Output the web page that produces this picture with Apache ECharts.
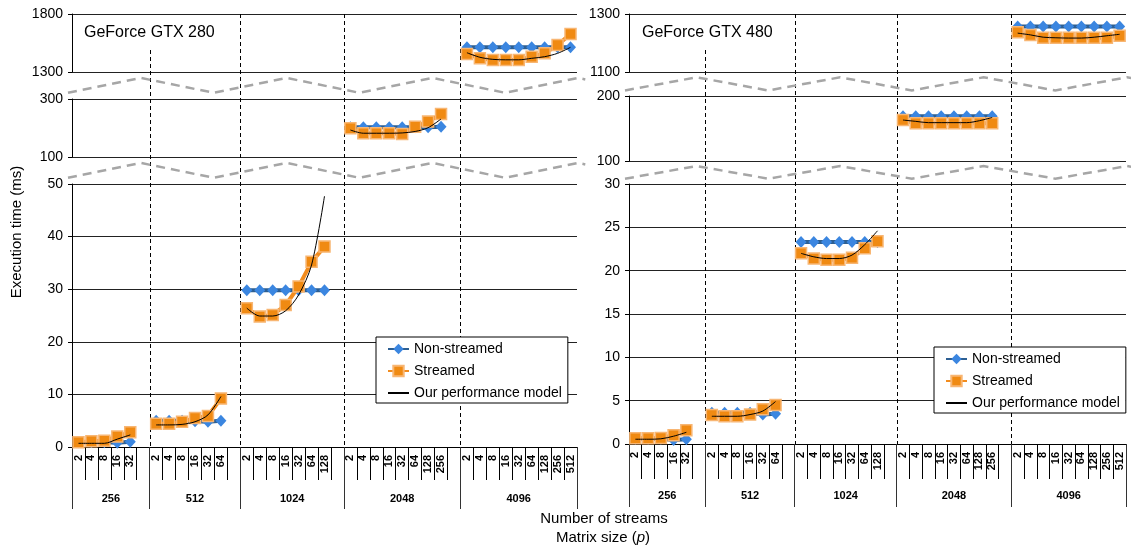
<!DOCTYPE html>
<html>
<head>
<meta charset="utf-8">
<title>Execution time: streamed vs non-streamed</title>
<script src="https://cdn.jsdelivr.net/npm/echarts@6/dist/echarts.min.js"></script>
<style>
  html, body { margin: 0; padding: 0; background: #fff; }
  #chart { width: 1131px; height: 548px; }
</style>
</head>
<body>
<div id="chart"></div>
<script>
// ---- data -------------------------------------------------------------
const matrixSizes = ['256', '512', '1024', '2048', '4096'];
const streamCounts = [
  [2, 4, 8, 16, 32],
  [2, 4, 8, 16, 32, 64],
  [2, 4, 8, 16, 32, 64, 128],
  [2, 4, 8, 16, 32, 64, 128, 256],
  [2, 4, 8, 16, 32, 64, 128, 256, 512]
];
const seriesNames = ['Non-streamed', 'Streamed', 'Our performance model'];

// GeForce GTX 280 execution times (ms), one row per matrix size
const gtx280NonStreamed = [
  [0.9, 0.9, 0.9, 0.8, 1.0],
  [5.0, 5.0, 5.0, 4.9, 4.8, 5.0],
  [29.8, 29.8, 29.8, 29.8, 29.8, 29.8, 29.8],
  [203, 203, 203, 203, 203, 203, 203, 204],
  [1513, 1513, 1513, 1513, 1513, 1513, 1513, 1513, 1513]
];
const gtx280Streamed = [
  [0.9, 1.1, 1.2, 2.0, 2.8],
  [4.4, 4.4, 4.8, 5.5, 5.9, 9.2],
  [26.4, 24.8, 25.1, 27.0, 30.5, 35.2, 38.1],
  [199, 182, 182, 182, 179, 204, 222, 248],
  [1455, 1418, 1403, 1403, 1403, 1432, 1461, 1533, 1628]
];
const gtx280Model = [
  [0.7, 0.7, 0.7, 1.5, 2.3],
  [4.2, 4.2, 4.3, 4.8, 6.1, 9.6],
  [26.4, 24.9, 24.9, 25.9, 28.9, 34.6, 47.7],
  [193, 182, 182, 182, 183, 188, 201, 231],
  [1466, 1427, 1409, 1405, 1405, 1418, 1432, 1461, 1513]
];

// GeForce GTX 480 execution times (ms)
const gtx480NonStreamed = [
  [0.6, 0.6, 0.6, 0.45, 0.55],
  [3.6, 3.6, 3.6, 3.6, 3.4, 3.5],
  [23.3, 23.3, 23.3, 23.3, 23.3, 23.3, 23.3],
  [169, 169, 169, 169, 169, 169, 169, 169],
  [1257, 1257, 1257, 1257, 1257, 1257, 1257, 1257, 1257]
];
const gtx480Streamed = [
  [0.65, 0.65, 0.7, 1.0, 1.6],
  [3.35, 3.2, 3.2, 3.4, 4.0, 4.5],
  [22.0, 21.4, 21.25, 21.25, 21.5, 22.6, 23.4],
  [163, 158, 158, 158, 158, 158, 158, 158],
  [1237, 1228, 1218, 1218, 1218, 1218, 1218, 1218, 1225]
];
const gtx480Model = [
  [0.55, 0.55, 0.6, 0.9, 1.35],
  [3.2, 3.2, 3.2, 3.4, 3.8, 4.9],
  [22.0, 21.6, 21.4, 21.4, 21.8, 23.0, 24.6],
  [163, 161, 159, 159, 159, 159, 162, 167],
  [1234, 1228, 1220, 1218, 1217, 1217, 1220, 1225, 1230]
];

// ---- layout -----------------------------------------------------------
const FONT = '"Liberation Sans", Arial, Helvetica, sans-serif';

// Every matrix size gets one slot per stream count, plus an empty spacer slot (except the last)
const slotLabels = [];
const groupStart = [];
matrixSizes.forEach((m, g) => {
  groupStart.push(slotLabels.length);
  streamCounts[g].forEach(s => slotLabels.push(String(s)));
  if (g < matrixSizes.length - 1) slotLabels.push('');
});
const slotCount = slotLabels.length;
const groupBounds = groupStart.concat([slotCount]);
const groupCenters = matrixSizes.map((m, g) => (groupBounds[g] + groupBounds[g + 1]) / 2);

// Each panel is a broken y axis made of three stacked grids (level 0 = bottom)
const panels = [
  {
    title: 'GeForce GTX 280', titleX: 84,
    nonStreamed: gtx280NonStreamed, streamed: gtx280Streamed, model: gtx280Model,
    left: 72, width: 505,
    levels: [
      { top: 184, height: 263, min: 0, max: 50, interval: 10 },
      { top: 99, height: 58, min: 100, max: 300, interval: 200 },
      { top: 14, height: 58, min: 1300, max: 1800, interval: 500 }
    ],
    groupLevel: [0, 0, 0, 1, 2],
    tickLen: 33, groupTickLen: 62, groupLabelMargin: 46,
    legendPos: { left: 376, top: 337 }
  },
  {
    title: 'GeForce GTX 480', titleX: 642,
    nonStreamed: gtx480NonStreamed, streamed: gtx480Streamed, model: gtx480Model,
    left: 629, width: 497,
    levels: [
      { top: 184, height: 260, min: 0, max: 30, interval: 5 },
      { top: 96, height: 65, min: 100, max: 200, interval: 100 },
      { top: 14, height: 58, min: 1100, max: 1300, interval: 200 }
    ],
    groupLevel: [0, 0, 0, 1, 2],
    tickLen: 35, groupTickLen: 63, groupLabelMargin: 46,
    legendPos: { left: 934, top: 347 }
  }
];

const grid = [], xAxis = [], yAxis = [], series = [], legend = [], title = [];
const baseGrid = [], groupAxis = [];

function slotData(rows, panel, level) {
  const d = new Array(slotCount).fill(null);
  rows.forEach((vals, g) => {
    if (panel.groupLevel[g] !== level) return;
    vals.forEach((v, k) => { d[groupStart[g] + k] = v; });
  });
  return d;
}

panels.forEach((p, pi) => {
  title.push({
    text: p.title, left: p.titleX, top: 25, padding: 0,
    textStyle: { fontSize: 16, fontWeight: 'normal', color: '#000', fontFamily: FONT }
  });

  p.levels.forEach((lv, li) => {
    const gi = grid.length;
    const xi = xAxis.length;
    const yi = yAxis.length;
    if (li === 0) baseGrid.push(gi);
    grid.push({ left: p.left, width: p.width, top: lv.top, height: lv.height });

    xAxis.push({
      type: 'category', gridIndex: gi, data: slotLabels, boundaryGap: true,
      show: li === 0, position: 'bottom',
      axisLine: { show: true, onZero: false, lineStyle: { color: '#000', width: 1 } },
      axisTick: { show: true, interval: 0, length: p.tickLen, lineStyle: { color: '#000' } },
      axisLabel: {
        interval: 0, rotate: 90, margin: 8, fontSize: 11, fontWeight: 'bold',
        color: '#000', fontFamily: FONT
      },
      splitLine: { show: false }
    });

    yAxis.push({
      type: 'value', gridIndex: gi, min: lv.min, max: lv.max, interval: lv.interval,
      axisLine: { show: true, lineStyle: { color: '#000', width: 1 } },
      axisTick: { show: true, length: 4, lineStyle: { color: '#000' } },
      axisLabel: { fontSize: 14, margin: 9, color: '#000', fontFamily: FONT, formatter: v => String(v) },
      splitLine: { show: true, lineStyle: { color: '#222', width: 1 } }
    });

    series.push({
      name: seriesNames[0], type: 'line', xAxisIndex: xi, yAxisIndex: yi,
      data: slotData(p.nonStreamed, p, li),
      symbol: 'diamond', symbolSize: [11, 12], showAllSymbol: true,
      lineStyle: { color: '#2d5f92', width: 4 },
      itemStyle: { color: '#3b86e0' }, z: 3
    });
    series.push({
      name: seriesNames[1], type: 'line', xAxisIndex: xi, yAxisIndex: yi,
      data: slotData(p.streamed, p, li),
      symbol: 'rect', symbolSize: 11, showAllSymbol: true,
      lineStyle: { color: '#f28c1e', width: 4 },
      itemStyle: { color: '#f08a12', borderColor: '#f8b673', borderWidth: 1.5 }, z: 4
    });
    series.push({
      name: seriesNames[2], type: 'line', xAxisIndex: xi, yAxisIndex: yi,
      data: slotData(p.model, p, li),
      symbol: 'none', smooth: 0.3,
      lineStyle: { color: '#000', width: 1 },
      itemStyle: { color: '#000' }, z: 5
    });
  });

  // second axis on the bottom grid: matrix-size groups
  groupAxis.push(xAxis.length);
  xAxis.push({
    type: 'value', gridIndex: baseGrid[pi], min: 0, max: slotCount, position: 'bottom',
    axisLine: { show: false }, splitLine: { show: false },
    axisTick: { show: true, customValues: groupBounds, length: p.groupTickLen, lineStyle: { color: '#333' } },
    axisLabel: {
      customValues: groupCenters, margin: p.groupLabelMargin,
      formatter: v => matrixSizes[groupCenters.indexOf(v)],
      fontSize: 11, fontWeight: 'bold', color: '#000', fontFamily: FONT
    }
  });

  legend.push({
    left: p.legendPos.left, top: p.legendPos.top, orient: 'vertical',
    data: [
      { name: seriesNames[0] },
      { name: seriesNames[1] },
      { name: seriesNames[2], itemStyle: { opacity: 0 } }
    ],
    backgroundColor: '#fff', borderColor: '#000', borderWidth: 1,
    padding: [4, 6, 2, 11], itemGap: 6, itemWidth: 21, itemHeight: 13,
    textStyle: { fontSize: 14, color: '#000', fontFamily: FONT, lineHeight: 16 },
    selectedMode: false, z: 10
  });
});

const chart = echarts.init(document.getElementById('chart'), null, { renderer: 'canvas' });
chart.setOption({
  animation: false,
  backgroundColor: '#fff',
  title, grid, xAxis, yAxis, series, legend
});

// ---- separators, axis breaks and axis titles ---------------------------
const graphics = [];
panels.forEach((p, pi) => {
  const yZero = chart.convertToPixel({ gridIndex: baseGrid[pi] }, [0, p.levels[0].min])[1];
  const yTop = p.levels[2].top;

  // dashed vertical lines between matrix-size groups
  groupBounds.slice(1, -1).forEach((b, k) => {
    const x = Math.round(chart.convertToPixel({ xAxisIndex: groupAxis[pi] }, b)) + 0.5;
    graphics.push({
      type: 'line', silent: true, z: 1,
      shape: { x1: x, y1: k === 0 ? 50 : yTop, x2: x, y2: yZero },
      style: { stroke: '#000', lineWidth: 1, lineDash: [4, 3] }
    });
  });

  // zig-zag break marks in the gaps between stacked grids
  const gaps = [
    [p.levels[2].top + p.levels[2].height, p.levels[1].top],
    [p.levels[1].top + p.levels[1].height, p.levels[0].top]
  ];
  gaps.forEach(([a, b]) => {
    const hi = a + (b - a) * 0.22, lo = a + (b - a) * 0.77;
    const x0 = p.left - 4, x1 = p.left + p.width + 1, n = 7;
    const pts = [];
    for (let i = 0; i <= n; i++) pts.push([x0 + (x1 - x0) * i / n, i % 2 === 0 ? lo : hi]);
    const dx = (x1 - x0) / n;
    pts.push([x1 + dx * 0.1, hi + (lo - hi) * 0.1]);
    graphics.push({
      type: 'polyline', silent: true, z: 1,
      shape: { points: pts },
      style: { stroke: '#a6a6a6', lineWidth: 2.5, lineDash: [9, 6], fill: null }
    });
  });
});

graphics.push({
  type: 'text', silent: true, x: 17, y: 232, rotation: Math.PI / 2,
  style: {
    text: 'Execution time (ms)', fontSize: 15, fontFamily: FONT, fill: '#000',
    align: 'center', verticalAlign: 'middle'
  }
});
graphics.push({
  type: 'text', silent: true, x: 604, y: 519,
  style: {
    text: 'Number of streams', fontSize: 15, fontFamily: FONT, fill: '#000',
    align: 'center', verticalAlign: 'middle'
  }
});
graphics.push({
  type: 'text', silent: true, x: 603, y: 538,
  style: {
    text: 'Matrix size ({i|p})', fontSize: 15, fontFamily: FONT, fill: '#000',
    align: 'center', verticalAlign: 'middle',
    rich: { i: { fontStyle: 'italic', fontSize: 15, fontFamily: FONT, fill: '#000' } }
  }
});

chart.setOption({ graphic: { elements: graphics } });
</script>
</body>
</html>
